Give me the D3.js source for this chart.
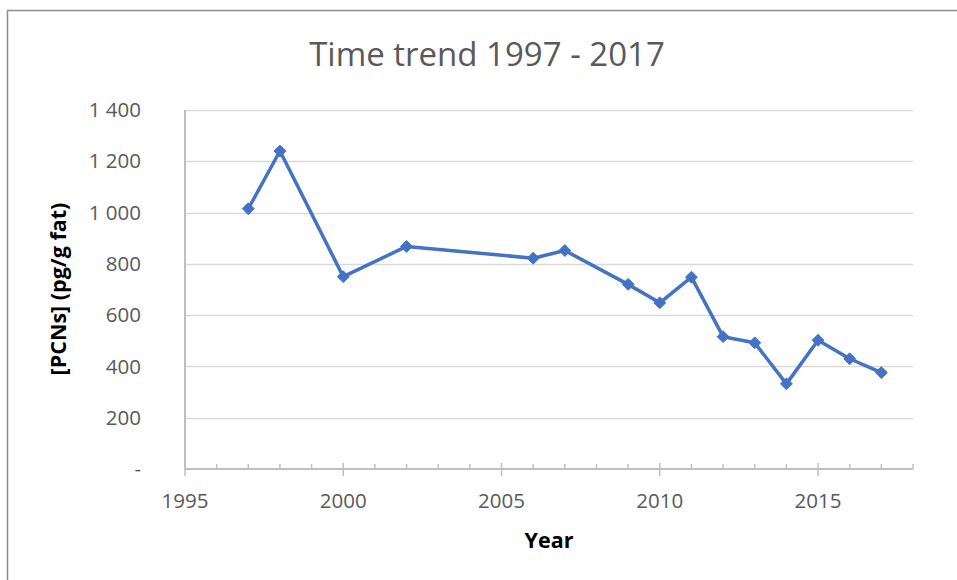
<!DOCTYPE html>
<html>
<head>
<meta charset="utf-8">
<script src="https://cdn.jsdelivr.net/npm/d3@7"></script>
<style>
  body { margin: 0; background: #fff; }
  svg { display: block; }
  text { font-family: "Open Sans", "Noto Sans", sans-serif; }
</style>
</head>
<body>
<div id="chart"></div>
<script>
// PCN concentration time series
const years  = [1997, 1998, 2000, 2002, 2006, 2007, 2009, 2010, 2011, 2012, 2013, 2014, 2015, 2016, 2017];
const values = [1015, 1240, 750, 868, 822, 852, 720, 648, 748, 516, 492, 332, 502, 430, 376];
const yTicks = [0, 200, 400, 600, 800, 1000, 1200, 1400];
const xMajorTicks = [1995, 2000, 2005, 2010, 2015];
const xMinorTicks = d3.range(1995, 2019);

const W = 957, H = 580;
const svg = d3.select("#chart").append("svg").attr("width", W).attr("height", H);

// chart frame
svg.append("path")
  .attr("d", `M7.5,${H} V10.5 H${W}`)
  .attr("fill", "none").attr("stroke", "#8c8c8c").attr("stroke-width", 1.5);

const x = d3.scaleLinear().domain([1995, 2018]).range([185, 913]);
const y = d3.scaleLinear().domain([0, 1400]).range([469, 110]);

const fmt = d => d === 0 ? "-" : d3.format(",")(d).replace(",", " ");

// horizontal gridlines
svg.append("g").selectAll("line").data(yTicks.filter(d => d > 0)).join("line")
  .attr("x1", x(1995)).attr("x2", x(2018))
  .attr("y1", d => Math.round(y(d)) + 0.5).attr("y2", d => Math.round(y(d)) + 0.5)
  .attr("stroke", "#d9d9d9").attr("stroke-width", 1.5);

// y axis line
svg.append("line")
  .attr("x1", x(1995)).attr("x2", x(1995))
  .attr("y1", y(1400)).attr("y2", y(0))
  .attr("stroke", "#bfbfbf").attr("stroke-width", 2);

// y tick labels
svg.append("g").selectAll("text").data(yTicks).join("text")
  .attr("x", 141).attr("y", d => y(d))
  .attr("dy", "0.35em")
  .attr("text-anchor", "end")
  .attr("font-size", 20.5).attr("fill", "#595959")
  .text(fmt);

// x axis line and ticks
const xAxis = svg.append("g");
xAxis.append("line")
  .attr("x1", x(1995)).attr("x2", x(2018))
  .attr("y1", y(0)).attr("y2", y(0))
  .attr("stroke", "#bfbfbf").attr("stroke-width", 2);
xAxis.selectAll(".minor").data(xMinorTicks.filter(d => !xMajorTicks.includes(d))).join("line")
  .attr("class", "minor")
  .attr("x1", d => x(d)).attr("x2", d => x(d))
  .attr("y1", y(0) - 5).attr("y2", y(0))
  .attr("stroke", "#bfbfbf").attr("stroke-width", 1.5);
xAxis.selectAll(".major").data(xMajorTicks).join("line")
  .attr("class", "major")
  .attr("x1", d => x(d)).attr("x2", d => x(d))
  .attr("y1", y(0) - 6).attr("y2", y(0) + 7)
  .attr("stroke", "#bfbfbf").attr("stroke-width", 1.5);
xAxis.selectAll("text").data(xMajorTicks).join("text")
  .attr("x", d => x(d)).attr("y", 508)
  .attr("text-anchor", "middle")
  .attr("font-size", 20.5).attr("fill", "#595959")
  .text(d => d);

// data line
svg.append("path")
  .datum(years.map((yr, i) => [yr, values[i]]))
  .attr("fill", "none")
  .attr("stroke", "#4472c4").attr("stroke-width", 3.5).attr("stroke-linejoin", "round")
  .attr("d", d3.line().x(d => x(d[0])).y(d => y(d[1])));

// diamond markers
svg.append("g").selectAll("path").data(years.map((yr, i) => [yr, values[i]])).join("path")
  .attr("transform", d => `translate(${x(d[0])},${y(d[1])})`)
  .attr("d", d3.symbol(d3.symbolDiamond2, 90))
  .attr("fill", "#4472c4").attr("stroke", "#4472c4").attr("stroke-width", 1);

// title
svg.append("text")
  .attr("x", 487).attr("y", 66)
  .attr("text-anchor", "middle")
  .attr("font-size", 33).attr("fill", "#595959")
  .text("Time trend 1997 - 2017");

// axis titles
svg.append("text")
  .attr("x", 549).attr("y", 548)
  .attr("text-anchor", "middle")
  .attr("font-size", 21.5).attr("font-weight", "bold").attr("fill", "#000")
  .text("Year");

svg.append("text")
  .attr("transform", "translate(66,289) rotate(-90)")
  .attr("text-anchor", "middle")
  .attr("font-size", 21.5).attr("font-weight", "bold").attr("fill", "#000")
  .text("[PCNs] (pg/g fat)");
</script>
</body>
</html>
